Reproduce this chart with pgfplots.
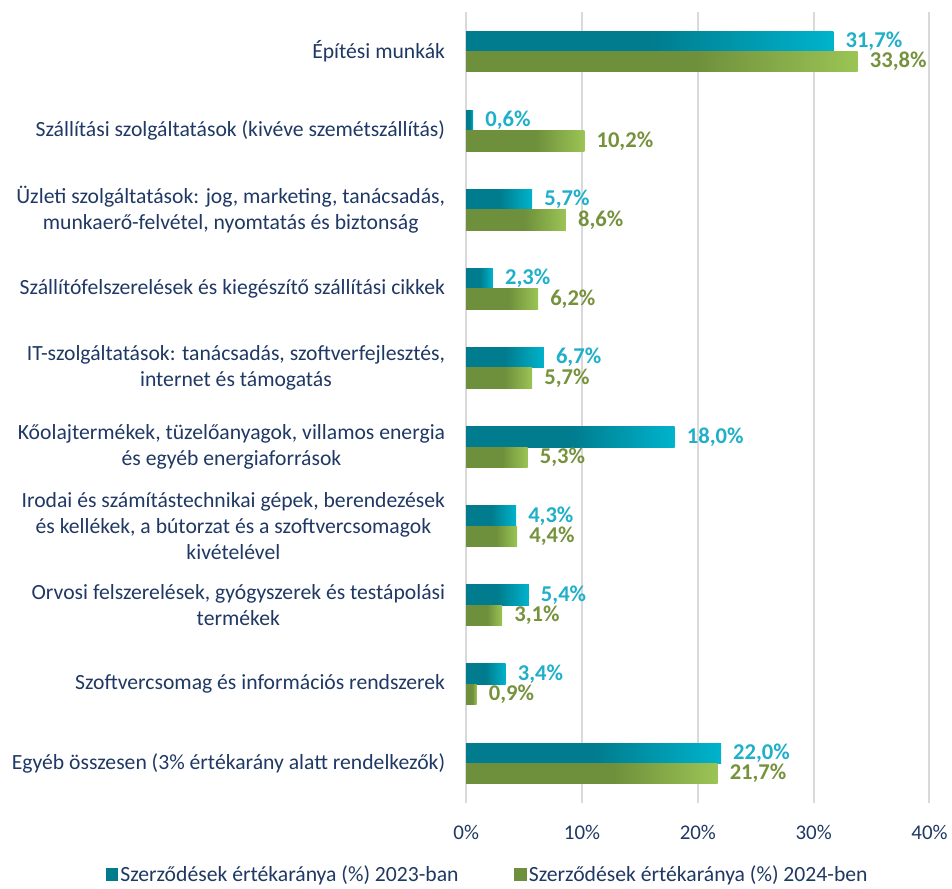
\documentclass[border=0pt]{standalone}
\usepackage{pgfplots}
\pgfplotsset{compat=1.18}
\usepackage{fontspec}
\setmainfont{Carlito}

\definecolor{tealdark}{HTML}{007C8E}
\definecolor{teallight}{HTML}{00B3CC}
\definecolor{olivedark}{HTML}{6E8F3B}
\definecolor{olivelight}{HTML}{9BC455}
\definecolor{labteal}{HTML}{1FAFC9}
\definecolor{labolive}{HTML}{76923C}
\definecolor{navy}{HTML}{1F3864}
\definecolor{gridgray}{HTML}{D9D9D9}

\pgfdeclarehorizontalshading{tealgrad}{100bp}{color(0bp)=(tealdark); color(25bp)=(tealdark); color(50bp)=(tealdark); color(75bp)=(teallight); color(100bp)=(teallight)}
\pgfdeclarehorizontalshading{olivegrad}{100bp}{color(0bp)=(olivedark); color(25bp)=(olivedark); color(54bp)=(olivedark); color(75bp)=(olivelight); color(100bp)=(olivelight)}

\tikzset{lbl/.style={anchor=west, inner sep=0pt, xshift=9pt,
    font=\fontsize{17}{20}\selectfont\bfseries}}
\pgfplotsset{
    b23/.style={draw=none, shading=tealgrad, bar shift=-0.129, forget plot,
        every node near coord/.append style={lbl, text=labteal}},
    b24/.style={draw=none, shading=olivegrad, bar shift=0.129, forget plot,
        every node near coord/.append style={lbl, text=labolive}},
}

\begin{document}
\begin{tikzpicture}
\begin{axis}[
    name=ax,
    xbar,
    scale only axis,
    width=348.75pt, height=595.5pt,
    xmin=0, xmax=40,
    ymin=-0.5, ymax=9.5,
    y dir=reverse,
    bar width=0.258,
    axis line style={draw=none},
    major tick length=0pt,
    xmajorgrids,
    grid style={draw=gridgray, line width=1.5pt},
    xtick={0,10,20,30,40},
    xticklabels={0\%,10\%,20\%,30\%,40\%},
    xticklabel style={anchor=center, yshift=-22.5pt, font=\fontsize{15.75}{18}\selectfont, text=navy},
    ytick={0,...,9},
    yticklabels={
        {Építési munkák},
        {Szállítási szolgáltatások (kivéve szemétszállítás)},
        {Üzleti szolgáltatások: jog, marketing, tanácsadás,\\munkaerő-felvétel, nyomtatás és biztonság},
        {Szállítófelszerelések és kiegészítő szállítási cikkek},
        {IT-szolgáltatások: tanácsadás, szoftverfejlesztés,\\internet és támogatás},
        {Kőolajtermékek, tüzelőanyagok, villamos energia\\és egyéb energiaforrások},
        {Irodai és számítástechnikai gépek, berendezések\\és kellékek, a bútorzat és a szoftvercsomagok\\kivételével},
        {Orvosi felszerelések, gyógyszerek és testápolási\\termékek},
        {Szoftvercsomag és információs rendszerek},
        {Egyéb összesen (3\% értékarány alatt rendelkezők)}},
    yticklabel style={anchor=east, inner sep=0pt, xshift=-15.75pt, align=center,
        font=\fontsize{16.3}{19.5}\selectfont, text=navy},
    /pgf/number format/assume math mode=true,
    nodes near coords={\pgfmathprintnumber[fixed,fixed zerofill,precision=1,use comma]{\pgfplotspointmeta}\%},
    legend columns=2,
    legend style={at={(0.047,0)}, anchor=center, yshift=-54pt, draw=none,
        font=\fontsize{16.3}{19}\selectfont, text=navy,
        /tikz/every even column/.append style={column sep=40pt}},
]
% 2023
\addplot[b23] coordinates {(31.7,0)};
\addplot[b23] coordinates {(0.6,1)};
\addplot[b23] coordinates {(5.7,2)};
\addplot[b23] coordinates {(2.3,3)};
\addplot[b23] coordinates {(6.7,4)};
\addplot[b23] coordinates {(18.0,5)};
\addplot[b23] coordinates {(4.3,6)};
\addplot[b23] coordinates {(5.4,7)};
\addplot[b23] coordinates {(3.4,8)};
\addplot[b23] coordinates {(22.0,9)};
% 2024
\addplot[b24] coordinates {(33.8,0)};
\addplot[b24] coordinates {(10.2,1)};
\addplot[b24] coordinates {(8.6,2)};
\addplot[b24] coordinates {(6.2,3)};
\addplot[b24] coordinates {(5.7,4)};
\addplot[b24] coordinates {(5.3,5)};
\addplot[b24] coordinates {(4.4,6)};
\addplot[b24] coordinates {(3.1,7)};
\addplot[b24] coordinates {(0.9,8)};
\addplot[b24] coordinates {(21.7,9)};

\addlegendimage{legend image code/.code={\fill[tealdark] (0pt,-4.5pt) rectangle (8.5pt,4.5pt);}}
\addlegendentry{Szerződések értékaránya (\%) 2023-ban}
\addlegendimage{legend image code/.code={\fill[olivedark] (0pt,-4.5pt) rectangle (8.5pt,4.5pt);}}
\addlegendentry{Szerződések értékaránya (\%) 2024-ben}
\end{axis}
\path ([xshift=-351pt, yshift=9pt]ax.north west) ([xshift=14.25pt, yshift=-63pt]ax.south east);
\end{tikzpicture}
\end{document}
